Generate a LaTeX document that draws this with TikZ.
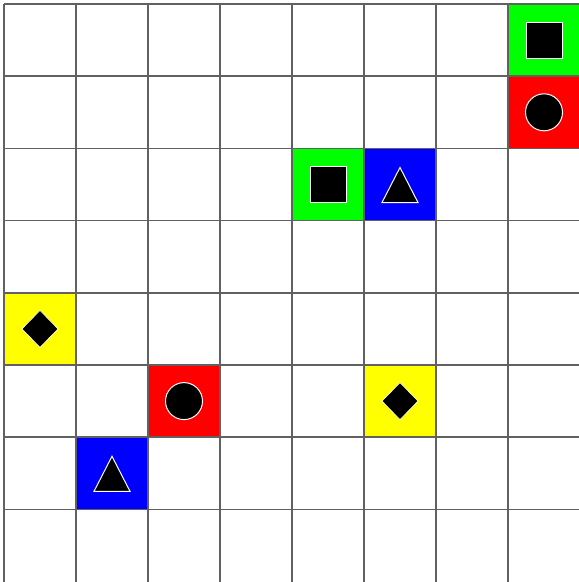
\documentclass[tikz,border=0pt]{standalone}
\begin{document}
\begin{tikzpicture}[x=1pt,y=-1pt,
  gridline/.style={draw=black!62,line width=1.6pt},
  sym/.style={fill=black,draw=white,line width=1pt,line join=miter},
  sqr/.pic={\path[sym] (-18,-18) rectangle (18,18);},
  circ/.pic={\path[sym] (0,0) circle[radius=18.5];},
  tri/.pic={\path[sym] (0,-17) -- (18,18) -- (-18,18) -- cycle;},
  dia/.pic={\path[sym,line width=0.6pt] (0,-18.5) -- (18,0) -- (0,18.5) -- (-18,0) -- cycle;}
]
\useasboundingbox (0,0) rectangle (579,582);
\fill[white] (0,0) rectangle (579,582);
\definecolor{cg}{RGB}{0,255,0}
\definecolor{cr}{RGB}{255,0,0}
\definecolor{cb}{RGB}{0,0,255}
\definecolor{cy}{RGB}{255,255,0}
\foreach \c/\r/\col in {7/0/cg,7/1/cr,4/2/cg,5/2/cb,0/4/cy,2/5/cr,5/5/cy,1/6/cb}
  \fill[\col] ({4+72*\c},{4+72.2*\r}) rectangle ++(72,72.2);
\foreach \k in {0,...,7} {
  \draw[gridline] ({4+72*\k},4) -- ({4+72*\k},590);
  \draw[gridline] (4,{4+72.2*\k}) -- (590,{4+72.2*\k});
}
\foreach \c/\r/\s in {7/0/sqr,7/1/circ,4/2/sqr,5/2/tri,0/4/dia,2/5/circ,5/5/dia,1/6/tri}
  \pic at ({40+72*\c},{40.1+72.2*\r}) {\s};
\end{tikzpicture}
\end{document}
